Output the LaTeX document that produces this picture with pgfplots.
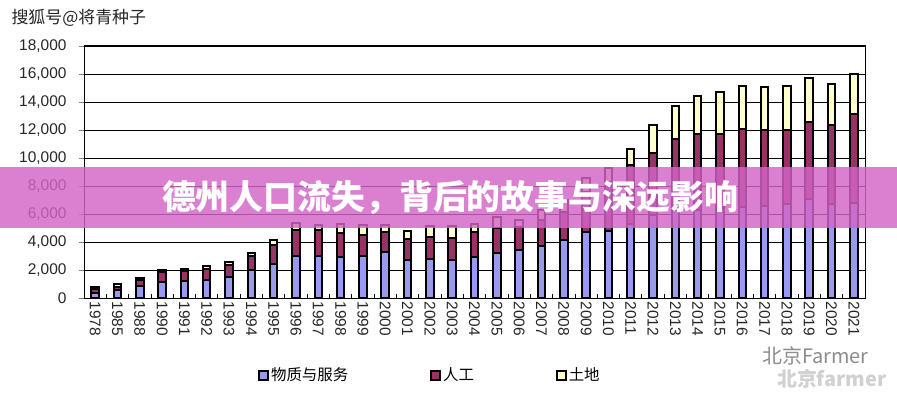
\documentclass[border=0pt]{standalone}
\usepackage{fontspec}
\setmainfont{Liberation Sans}
\newfontfamily\cjk{Noto Sans CJK SC}
\usepackage{pgfplots}
\pgfplotsset{compat=1.18}
\usepackage{pgfplotstable}

\definecolor{matc}{HTML}{9999F0}
\definecolor{labc}{HTML}{993366}
\definecolor{landc}{HTML}{FFFFCC}
\definecolor{bannerc}{HTML}{D465C6}

\pgfplotstableread{
idx year mat lab land
0 1978 350 300 150
1 1985 590 200 210
2 1988 830 470 120
3 1990 1140 690 140
4 1991 1185 740 145
5 1992 1305 790 190
6 1993 1500 850 220
7 1994 2020 950 240
8 1995 2450 1350 360
9 1996 2970 1900 480
10 1997 2970 1900 360
11 1998 2920 1710 670
12 1999 2970 1540 720
13 2000 3320 1360 550
14 2001 2680 1520 600
15 2002 2780 1570 760
16 2003 2680 1600 830
17 2004 2900 1780 620
18 2005 3210 1780 830
19 2006 3440 1600 500
20 2007 3680 1900 710
21 2008 4160 2000 850
22 2009 4730 2870 950
23 2010 4780 3530 960
24 2011 5300 4230 1120
25 2012 5940 4400 2000
26 2013 6300 5040 2400
27 2014 6300 5400 2720
28 2015 6450 5250 3000
29 2016 6530 5540 3070
30 2017 6580 5420 3090
31 2018 6700 5300 3140
32 2019 7040 5550 3120
33 2020 6700 5630 2950
34 2021 6820 6320 2850
}\datatable

\pgfplotsset{sqlegend/.style={legend image code/.code={\draw[##1, line width=1.8bp, draw=black] (0bp,-4.5bp) rectangle (9bp,4.5bp);}}}

\begin{document}
\begin{tikzpicture}
\useasboundingbox[fill=white] (0,0) rectangle (897bp,396bp);
\begin{axis}[
  at={(84bp,98bp)}, anchor=south west,
  scale only axis, width=781bp, height=252bp,
  ybar stacked, bar width=7.5bp,
  xmin=-0.5, xmax=34.5, ymin=0, ymax=18000,
  xtick={0,...,34},
  xticklabels={1978,1985,1988,1990,1991,1992,1993,1994,1995,1996,1997,1998,1999,2000,2001,2002,2003,2004,2005,2006,2007,2008,2009,2010,2011,2012,2013,2014,2015,2016,2017,2018,2019,2020,2021},
  x tick label style={rotate=-90, anchor=west, yshift=0bp},
  minor xtick={-0.5,0.5,...,34.5},
  major x tick style={draw=none},
  minor x tick style={black, line width=0.8bp},
  minor tick length=4bp,
  xtick align=inside,
  ytick={0,2000,...,18000},
  ytick align=outside,
  major tick length=5bp,
  tick pos=left,
  ymajorgrids,
  grid style={black, line width=0.8bp},
  scaled y ticks=false,
  yticklabel style={xshift=-9bp, /pgf/number format/1000 sep={,}},
  /pgf/number format/assume math mode=true,
  tick label style={font=\fontsize{15.5}{18}\selectfont, black!85},
  axis line style={black, line width=1bp},
  legend style={at={(0.443,-0.306)}, anchor=center, draw=none, fill=none,
    legend columns=3, font=\cjk\fontsize{15.5}{18}\selectfont,
    /tikz/every even column/.append style={column sep=80bp}},
]
\addplot[fill=matc, draw=black, line width=2bp, sqlegend] table[x=idx, y=mat] {\datatable};
\addplot[fill=labc, draw=black, line width=2bp, sqlegend] table[x=idx, y=lab] {\datatable};
\addplot[fill=landc, draw=black, line width=2bp, sqlegend] table[x=idx, y=land] {\datatable};
\legend{物质与服务, 人工, 土地}
\end{axis}
\fill[bannerc, opacity=0.82] (0bp,168bp) rectangle (897bp,229bp);
\node[white, font=\cjk\bfseries\fontsize{34}{38}\selectfont] at (450bp,198bp) {德州人口流失，背后的故事与深远影响};
\node[anchor=west, black!85, font=\cjk\fontsize{17}{20}\selectfont] at (8bp,378bp) {搜狐号@将青种子};
\node[anchor=east, black!45, font=\cjk\fontsize{20}{22}\selectfont] at (872bp,40bp) {北京Farmer};
\node[anchor=east, black!18, font=\cjk\bfseries\fontsize{20}{22}\selectfont] at (890bp,17bp) {北京farmer};
\end{tikzpicture}
\end{document}
